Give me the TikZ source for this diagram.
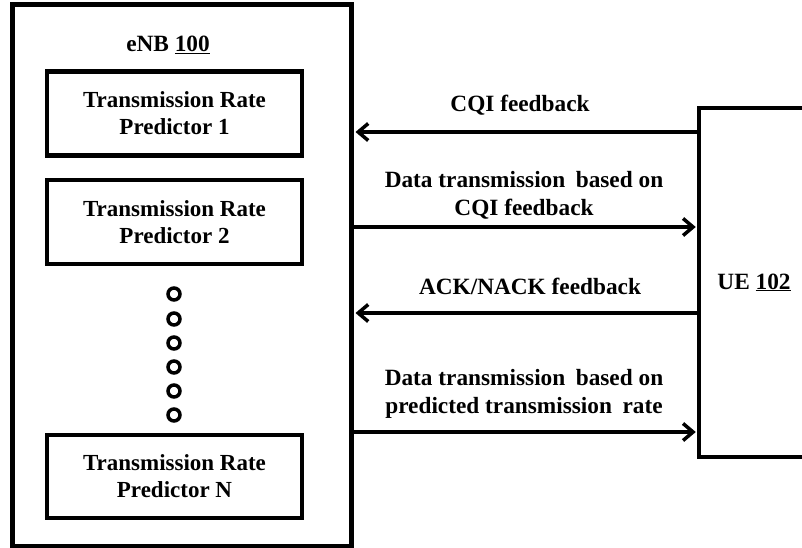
\documentclass[tikz,border=0pt]{standalone}
\usepackage{fontspec}
\setmainfont{Liberation Serif}
\usetikzlibrary{arrows.meta}

\begin{document}
\begin{tikzpicture}[x=1pt,y=-1pt,
  lbl/.style={font=\bfseries\fontsize{23.3}{28}\selectfont, align=center, inner sep=0pt},
  predbox/.style={draw, line width=4.5pt, minimum width=255pt, minimum height=84pt, lbl,
    font=\bfseries\fontsize{23}{27}\selectfont},
  outerbox/.style={draw, line width=5pt, inner sep=0pt},
  link/.style={line width=3.5pt, -{Straight Barb[length=10pt,width=17pt]}},
  ring/.style={draw, circle, line width=3.5pt, minimum size=12pt, inner sep=0pt}
]
\useasboundingbox (0,0) rectangle (802,548);
\clip (0,0) rectangle (802,548);

% base station with its predictors
\node[outerbox, minimum width=339pt, minimum height=541pt] (enb) at (181.5,275.5) {};
\node[lbl, anchor=base] (enblabel) at (168,52) {eNB \underline{100}};
\node[predbox] (p1) at (174.5,113.5) {Transmission Rate\\Predictor 1};
\node[predbox] (p2) at (174.5,222) {Transmission Rate\\Predictor 2};
\node[predbox, minimum height=83pt] (pn) at (174.5,476.5) {Transmission Rate\\Predictor N};
\foreach \k/\y in {1/294,2/319,3/343,4/367,5/391,6/415}
  \node[ring] (dot\k) at (174,\y) {};

% user equipment, its right side runs past the page edge
\node[outerbox, line width=4.5pt, minimum width=131pt, minimum height=349pt] (ue) at (764.5,282.5) {};
\node[lbl, anchor=base] (uelabel) at (754,289) {UE \underline{102}};

% signalling between eNB and UE
\draw[link, shorten >=2pt] (ue.west |- 0,132) -- (enb.east |- 0,132);
\draw[link, shorten >=1pt] (enb.east |- 0,227) -- (ue.west |- 0,227);
\draw[link, shorten >=2pt] (ue.west |- 0,313) -- (enb.east |- 0,313);
\draw[link, shorten >=1pt] (enb.east |- 0,432) -- (ue.west |- 0,432);

% labels: for two-line labels the base anchor sits on the last line
\node[lbl, anchor=base] (l1) at (520,112) {CQI feedback};
\node[lbl, anchor=base] (l2) at (524,215) {Data transmission\hspace{0.45em}based on\\CQI feedback};
\node[lbl, anchor=base] (l3) at (530,294) {ACK/NACK feedback};
\node[lbl, anchor=base] (l4) at (524,413) {Data transmission\hspace{0.45em}based on\\predicted transmission\hspace{0.45em}rate};
\end{tikzpicture}
\end{document}
